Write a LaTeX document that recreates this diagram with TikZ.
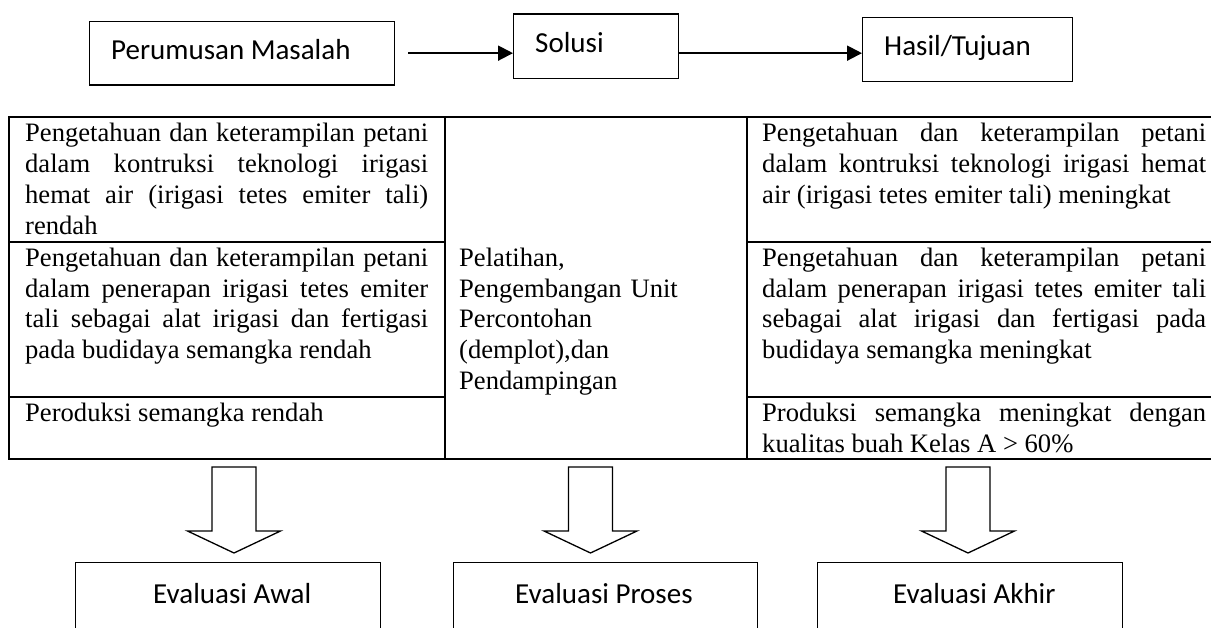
\documentclass[tikz,border=0pt]{standalone}
\usepackage{fontspec}
\setmainfont{Liberation Serif}
\newfontfamily\carl{Carlito}
\usetikzlibrary{arrows.meta}
\newcommand\tnr{\fontsize{26.6pt}{30.7pt}\selectfont\tolerance=10000\hyphenpenalty=10000\relax}
\newcommand\cbx{\carl\fontsize{29pt}{34pt}\selectfont}
\newcommand\bkarrow[1]{\draw[barrow] (#1-22,467) -- (#1+22,467) -- (#1+22,531) -- (#1+46.5,531) -- (#1,553) -- (#1-46.5,531) -- (#1-22,531) -- cycle;}
\begin{document}
\begin{tikzpicture}[x=1pt,y=-1pt,
  tbl/.style={line width=2pt, line cap=rect},
  box/.style={draw, line width=1.3pt, inner sep=0pt},
  celltxt/.style={font=\tnr, inner sep=0pt, anchor=base west, align=justify},
  boxtxt/.style={font=\cbx, inner sep=0pt, anchor=base west},
  flow/.style={line width=2pt, -{Triangle[length=15pt,width=15pt]}},
  barrow/.style={draw, line width=1.3pt, fill=white, line join=miter}]
\useasboundingbox (0,0) rectangle (1211,628);
\clip (0,0) rectangle (1211,628);
\fill[white] (0,0) rectangle (1211,628);

% top flow
\node[box, minimum width=305pt, minimum height=63.6pt, anchor=north west] (pm) at (89,20.7) {};
\node[boxtxt] (pmt) at (111,60) {Perumusan Masalah};
\node[box, minimum width=165pt, minimum height=64.4pt, anchor=north west] (so) at (513,13.3) {};
\node[boxtxt] (sot) at (535,52.5) {Solusi};
\node[box, minimum width=210pt, minimum height=64pt, anchor=north west] (hs) at (862,16.7) {};
\node[boxtxt] (hst) at (884,56) {Hasil/Tujuan};
\draw[flow] ([xshift=13pt]pm.east) -- (pm.east -| so.west);
\draw[flow] (so.east |- pm.east) -- (pm.east -| hs.west);

% table
\draw[tbl] (9,117) -- (1220,117);
\draw[tbl] (9,459) -- (1220,459);
\draw[tbl] (9,117) -- (9,459);
\draw[tbl] (445,117) -- (445,459);
\draw[tbl] (747,117) -- (747,459);
\draw[tbl] (9,242) -- (445,242);
\draw[tbl] (9,397) -- (445,397);
\draw[tbl] (747,242) -- (1220,242);
\draw[tbl] (747,397) -- (1220,397);

\node[celltxt, text width=403pt] (l1) at (25,142) {Pengetahuan dan keterampilan petani\linebreak dalam kontruksi teknologi irigasi\linebreak hemat air (irigasi tetes emiter tali)\linebreak rendah};
\node[celltxt, text width=403pt] (l2) at (25,266.5) {Pengetahuan dan keterampilan petani\linebreak dalam penerapan irigasi tetes emiter\linebreak tali sebagai alat irigasi dan fertigasi\linebreak pada budidaya semangka rendah};
\node[celltxt, text width=403pt] (l3) at (25,421.7) {Peroduksi semangka rendah};
\node[celltxt, text width=280pt, align=left] (m) at (459,266.5) {Pelatihan,\\ Pengembangan Unit\\ Percontohan\\ (demplot),dan\\ Pendampingan};
\node[celltxt, text width=444pt] (r1) at (762,142) {Pengetahuan dan keterampilan petani\linebreak dalam kontruksi teknologi irigasi hemat\linebreak air (irigasi tetes emiter tali) meningkat};
\node[celltxt, text width=444pt] (r2) at (762,266.5) {Pengetahuan dan keterampilan petani\linebreak dalam penerapan irigasi tetes emiter tali\linebreak sebagai alat irigasi dan fertigasi pada\linebreak budidaya semangka meningkat};
\node[celltxt, text width=444pt] (r3) at (762,421.7) {Produksi semangka meningkat dengan\linebreak kualitas buah Kelas A > 60\%};

% block arrows
\bkarrow{234}
\bkarrow{590.5}
\bkarrow{968}

% evaluation boxes
\node[box, minimum width=305pt, minimum height=120pt, anchor=north west] (ea) at (75,562) {};
\node[boxtxt] (eat) at (153,603) {Evaluasi Awal};
\node[box, minimum width=304pt, minimum height=120pt, anchor=north west] (ep) at (453,562) {};
\node[boxtxt] (ept) at (515,603) {Evaluasi Proses};
\node[box, minimum width=305pt, minimum height=120pt, anchor=north west] (ek) at (817,562) {};
\node[boxtxt] (ekt) at (893,603) {Evaluasi Akhir};
\end{tikzpicture}
\end{document}
